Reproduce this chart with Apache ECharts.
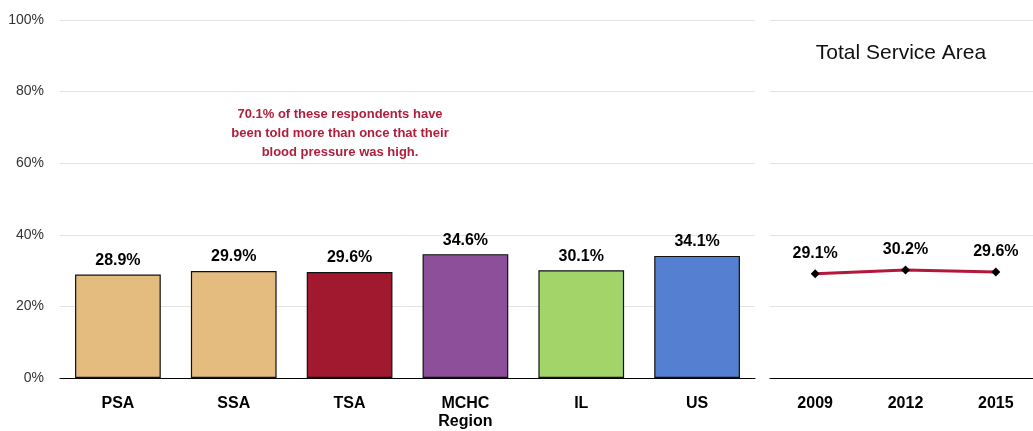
<!DOCTYPE html>
<html><head><meta charset="utf-8">
<script src="https://cdn.jsdelivr.net/npm/echarts@6/dist/echarts.min.js"></script>
<style>html,body{margin:0;padding:0;background:#fff;overflow:hidden}#c{width:1033px;height:431px}</style>
</head><body><div id="c"></div>
<script>
const categories = ['PSA', 'SSA', 'TSA', 'MCHC\nRegion', 'IL', 'US'];
const barValues = [28.9, 29.9, 29.6, 34.6, 30.1, 34.1];
const barColors = ['#E5BC7F', '#E5BC7F', '#A0192E', '#8E4F9A', '#A2D469', '#5580D2'];
const years = ['2009', '2012', '2015'];
const trendValues = [29.1, 30.2, 29.6];
const yTicks = [0, 20, 40, 60, 80, 100];
const noteText = '70.1% of these respondents have\nbeen told more than once that their\nblood pressure was high.';
const panelTitle = 'Total Service Area';

const FONT = '"Liberation Sans", Arial, sans-serif';
const chart = echarts.init(document.getElementById('c'), null, {renderer: 'canvas'});
chart.setOption({
  animation: false,
  backgroundColor: '#fff',
  textStyle: {fontFamily: FONT},
  title: {
    text: panelTitle, left: 896, top: 38, textAlign: 'center',
    textStyle: {fontFamily: FONT, fontSize: 21, fontWeight: 'normal', color: '#111'}
  },
  graphic: [{
    type: 'text', x: 340, y: 105,
    style: {
      text: noteText, textAlign: 'center', textVerticalAlign: 'top',
      font: 'bold 13px ' + FONT, fill: '#B01E3C', lineHeight: 19
    }
  }],
  grid: [
    {left: 60, top: 20, width: 695, height: 358, containLabel: false, outerBoundsMode: 'none'},
    {left: 770, top: 20, width: 271, height: 358, containLabel: false, outerBoundsMode: 'none'}
  ],
  xAxis: [
    {type: 'category', gridIndex: 0, data: categories,
     axisLine: {lineStyle: {color: '#000', width: 1.2}}, axisTick: {show: false},
     axisLabel: {margin: 17, fontFamily: FONT, fontSize: 16, fontWeight: 'bold', color: '#000', lineHeight: 18}},
    {type: 'category', gridIndex: 1, data: years,
     axisLine: {lineStyle: {color: '#000', width: 1.2}}, axisTick: {show: false},
     axisLabel: {margin: 17, fontFamily: FONT, fontSize: 16, fontWeight: 'bold', color: '#000', lineHeight: 18}}
  ],
  yAxis: [
    {type: 'value', gridIndex: 0, min: 0, max: 100, interval: 20,
     axisLine: {show: false}, axisTick: {show: false},
     splitLine: {lineStyle: {color: '#e3e3e3', width: 1}},
     axisLabel: {margin: 16, fontFamily: FONT, fontSize: 14, color: '#333', formatter: v => yTicks.includes(v) ? v + '%' : ''}},
    {type: 'value', gridIndex: 1, min: 0, max: 100, interval: 20,
     axisLine: {show: false}, axisTick: {show: false}, axisLabel: {show: false},
     splitLine: {lineStyle: {color: '#e3e3e3', width: 1}}}
  ],
  series: [
    {type: 'bar', xAxisIndex: 0, yAxisIndex: 0, barCategoryGap: '26%',
     data: barValues.map((v, i) => ({value: v, itemStyle: {color: barColors[i]}})),
     itemStyle: {borderColor: '#111', borderWidth: 1.2},
     label: {show: true, position: 'top', distance: 6, formatter: p => p.value.toFixed(1) + '%',
       fontFamily: FONT, fontSize: 16, fontWeight: 'bold', color: '#000'}},
    {type: 'line', xAxisIndex: 1, yAxisIndex: 1, data: trendValues,
     lineStyle: {color: '#B5173A', width: 3}, symbol: 'diamond', symbolSize: 9,
     itemStyle: {color: '#000'},
     label: {show: true, position: 'top', distance: 8, formatter: p => p.value.toFixed(1) + '%',
       fontFamily: FONT, fontSize: 16, fontWeight: 'bold', color: '#000'}}
  ]
});
</script></body></html>
